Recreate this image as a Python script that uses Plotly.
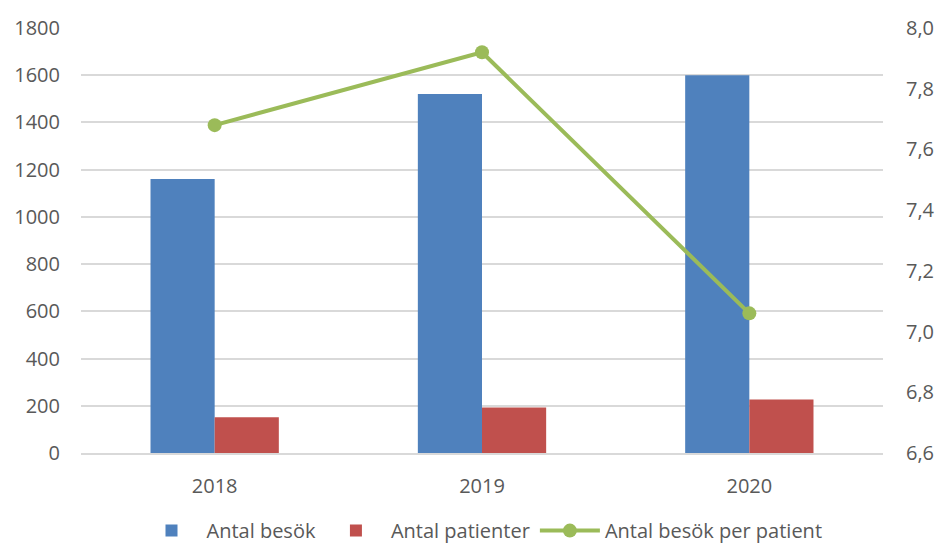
import plotly.graph_objects as go

years = ["2018", "2019", "2020"]
antal_besok = [1160, 1520, 1600]
antal_patienter = [151, 193, 227]
besok_per_patient = [7.68, 7.92, 7.06]

FONT = "Open Sans"
GREY = "#595959"

fig = go.Figure()
fig.add_trace(go.Bar(x=years, y=antal_besok, name="Antal besök",
                     marker=dict(color="#4f81bd", line_width=0)))
fig.add_trace(go.Bar(x=years, y=antal_patienter, name="Antal patienter",
                     marker=dict(color="#c0504d", line_width=0)))
fig.add_trace(go.Scatter(x=years, y=besok_per_patient, name="Antal besök per patient",
                         yaxis="y2", mode="lines+markers",
                         line=dict(color="#9bbb59", width=4),
                         marker=dict(color="#9bbb59", size=14)))

fig.update_layout(
    width=938, height=547,
    margin=dict(l=81, r=55, t=28, b=94, autoexpand=False),
    paper_bgcolor="white", plot_bgcolor="white",
    font=dict(family=FONT, size=20, color=GREY),
    separators=", ",
    barmode="group", bargap=0.52, bargroupgap=0,
    xaxis=dict(showline=True, linecolor="#d9d9d9", linewidth=1.5,
               ticks="", ticklabelstandoff=14, automargin=False),
    yaxis=dict(range=[0, 1800], dtick=200, showgrid=True,
               gridcolor="#d9d9d9", gridwidth=1.5, zeroline=False,
               ticklabelstandoff=20, automargin=False),
    yaxis2=dict(range=[6.6, 8.0], dtick=0.2, tickformat=".1f",
                overlaying="y", side="right", showgrid=False,
                zeroline=False, ticklabelstandoff=22, automargin=False),
    legend=dict(orientation="h", x=0.5, xanchor="center",
                yref="container", y=0.03, yanchor="middle",
                font=dict(size=20), itemwidth=60, traceorder="normal"),
)

# drop the default body margin so the figure fills the window exactly
fig.write_html("out.html", config={"displayModeBar": False},
               post_script="document.body.style.margin='0';")
